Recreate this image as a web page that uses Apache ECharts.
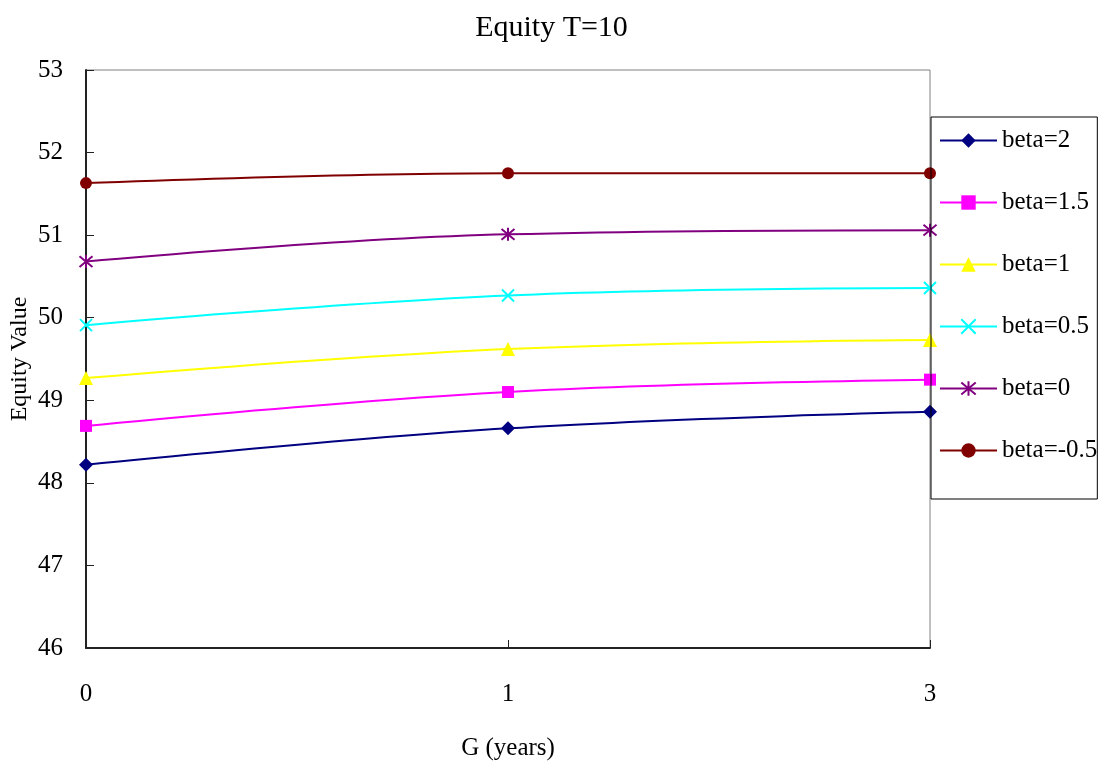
<!DOCTYPE html>
<html>
<head>
<meta charset="utf-8">
<title>Equity T=10</title>
<script src="https://cdn.jsdelivr.net/npm/echarts@6/dist/echarts.min.js"></script>
<style>
  html, body { margin: 0; padding: 0; background: #fff; }
  #chart { width: 1103px; height: 770px; }
</style>
</head>
<body>
<div id="chart"></div>
<script>
// G (years) categories along the x axis
const gYears = ['0', '1', '3'];

// Equity value for each beta
const beta2 = [48.22, 48.66, 48.86];
const beta15 = [48.69, 49.10, 49.25];
const beta1 = [49.27, 49.62, 49.73];
const beta05 = [49.91, 50.27, 50.36];
const beta0 = [50.68, 51.01, 51.06];
const betaNeg05 = [51.63, 51.75, 51.75];

const seriesNames = ['beta=2', 'beta=1.5', 'beta=1', 'beta=0.5', 'beta=0', 'beta=-0.5'];

const FONT = '"Liberation Serif", "DejaVu Serif", serif';

// Stroked marker shapes
const crossPath = 'path://M0,0L10,10M10,0L0,10';
const starPath = 'path://M0,0L10,10M10,0L0,10M5,-1L5,11';

function makeSeries(name, data, color, symbol, size, stroked) {
  return {
    name: name,
    type: 'line',
    data: data,
    smooth: 0.4,
    symbol: symbol,
    symbolSize: size,
    showSymbol: true,
    lineStyle: { color: color, width: 2 },
    itemStyle: stroked
      ? { color: 'rgba(0,0,0,0)', borderColor: color, borderWidth: 2 }
      : { color: color, borderWidth: 0 },
    emphasis: { disabled: true }
  };
}

const chart = echarts.init(document.getElementById('chart'));
chart.setOption({
  animation: false,
  backgroundColor: '#ffffff',
  title: {
    text: 'Equity T=10',
    left: 'center',
    top: 8,
    textStyle: { fontFamily: FONT, fontSize: 30, fontWeight: 'normal', color: '#000' }
  },
  grid: {
    left: 86, right: 173, top: 70, bottom: 122,
    containLabel: false,
    outerBoundsMode: 'none',
    show: true, borderColor: '#808080', borderWidth: 1
  },
  legend: {
    orient: 'vertical',
    left: 931,
    top: 117,
    padding: [11, 0, 36, 8],
    itemWidth: 57,
    itemHeight: 18,
    itemGap: 37,
    borderColor: '#000',
    borderWidth: 1,
    data: seriesNames,
    textStyle: { fontFamily: FONT, fontSize: 25, color: '#000', lineHeight: 24 }
  },
  xAxis: {
    type: 'category',
    data: gYears,
    boundaryGap: false,
    name: 'G (years)',
    nameLocation: 'middle',
    nameGap: 88,
    nameMoveOverlap: false,
    nameTextStyle: { fontFamily: FONT, fontSize: 25, color: '#000' },
    axisLine: { lineStyle: { color: '#222', width: 2 } },
    axisTick: { inside: true, length: 8, lineStyle: { color: '#222' } },
    axisLabel: { fontFamily: FONT, fontSize: 25, color: '#000', margin: 34 },
    splitLine: { show: false }
  },
  yAxis: {
    type: 'value',
    min: 46,
    max: 53,
    interval: 1,
    name: 'Equity Value',
    nameLocation: 'middle',
    nameGap: 54,
    nameMoveOverlap: false,
    nameTextStyle: { fontFamily: FONT, fontSize: 24, color: '#000' },
    axisLine: { show: true, lineStyle: { color: '#222', width: 2 } },
    axisTick: { show: true, inside: true, length: 8, lineStyle: { color: '#222' } },
    axisLabel: { fontFamily: FONT, fontSize: 25, color: '#000', margin: 23 },
    splitLine: { show: false }
  },
  series: [
    makeSeries('beta=2', beta2, '#000080', 'diamond', 14, false),
    makeSeries('beta=1.5', beta15, '#FF00FF', 'rect', 12, false),
    makeSeries('beta=1', beta1, '#FFFF00', 'triangle', 14, false),
    makeSeries('beta=0.5', beta05, '#00FFFF', crossPath, 12, true),
    makeSeries('beta=0', beta0, '#800080', starPath, 13, true),
    makeSeries('beta=-0.5', betaNeg05, '#800000', 'circle', 12, false)
  ]
});
</script>
</body>
</html>
